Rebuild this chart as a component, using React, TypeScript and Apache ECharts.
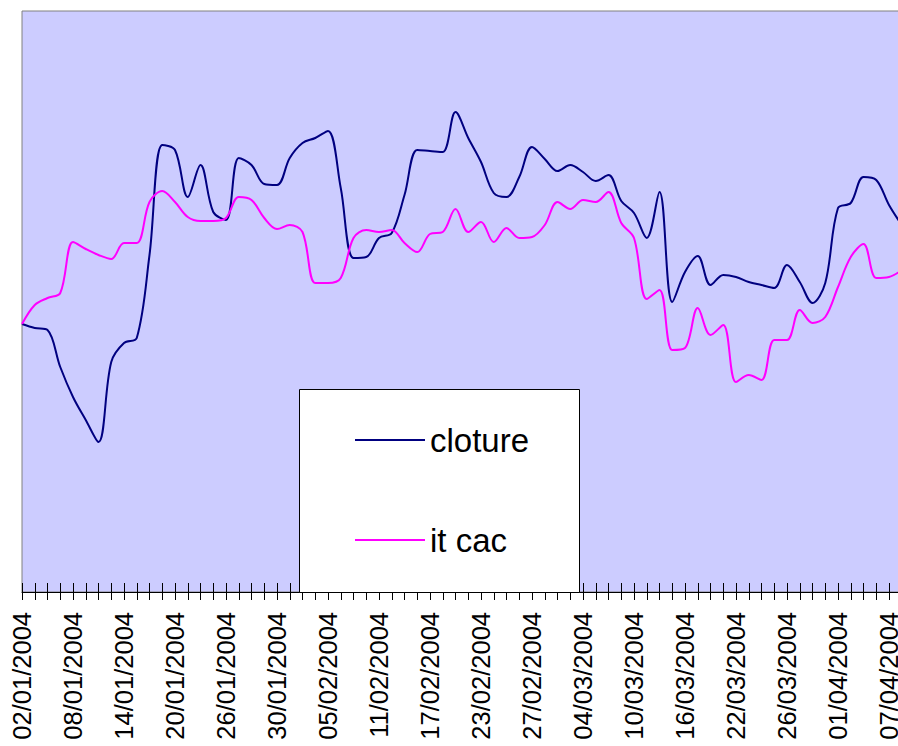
import React, { useEffect, useRef } from "react";
import * as echarts from "echarts";

const dates: string[] = [
  "02/01/2004","05/01/2004","06/01/2004","07/01/2004","08/01/2004","09/01/2004","12/01/2004","13/01/2004","14/01/2004","15/01/2004",
  "16/01/2004","19/01/2004","20/01/2004","21/01/2004","22/01/2004","23/01/2004","26/01/2004","27/01/2004","28/01/2004","29/01/2004",
  "30/01/2004","02/02/2004","03/02/2004","04/02/2004","05/02/2004","06/02/2004","09/02/2004","10/02/2004","11/02/2004","12/02/2004",
  "13/02/2004","16/02/2004","17/02/2004","18/02/2004","19/02/2004","20/02/2004","23/02/2004","24/02/2004","25/02/2004","26/02/2004",
  "27/02/2004","01/03/2004","02/03/2004","03/03/2004","04/03/2004","05/03/2004","08/03/2004","09/03/2004","10/03/2004","11/03/2004",
  "12/03/2004","15/03/2004","16/03/2004","17/03/2004","18/03/2004","19/03/2004","22/03/2004","23/03/2004","24/03/2004","25/03/2004",
  "26/03/2004","29/03/2004","30/03/2004","31/03/2004","01/04/2004","02/04/2004","05/04/2004","06/04/2004","07/04/2004","08/04/2004",
];

const cloture: number[] = [
  3599, 3595, 3593, 3556, 3526, 3503, 3481, 3561, 3580, 3585,
  3668, 3778, 3773, 3726, 3758, 3711, 3703, 3765, 3758, 3739,
  3738, 3765, 3780, 3785, 3792, 3735, 3665, 3666, 3685, 3690,
  3728, 3773, 3772, 3771, 3811, 3785, 3761, 3730, 3726, 3746,
  3776, 3764, 3752, 3758, 3751, 3742, 3748, 3722, 3710, 3685,
  3731, 3621, 3651, 3667, 3638, 3648, 3646, 3641, 3638, 3635,
  3658, 3641, 3620, 3640, 3715, 3720, 3746, 3743, 3718, 3698,
];

const itCac: number[] = [
  3599, 3618, 3625, 3630, 3681, 3674, 3668, 3664, 3680, 3680,
  3721, 3732, 3721, 3706, 3702, 3702, 3705, 3726, 3723, 3705,
  3694, 3698, 3691, 3640, 3640, 3645, 3685, 3693, 3691, 3693,
  3680, 3671, 3689, 3691, 3714, 3691, 3701, 3681, 3695, 3685,
  3686, 3698, 3721, 3714, 3723, 3721, 3731, 3700, 3685, 3624,
  3633, 3573, 3575, 3615, 3588, 3598, 3541, 3548, 3543, 3583,
  3583, 3613, 3600, 3606, 3636, 3666, 3679, 3645, 3646, 3653,
];

const seriesNames: string[] = ["cloture", "it cac"];
const yMin = 3331;
const yMax = 3912;

export default function App() {
  const ref = useRef<HTMLDivElement>(null);
  useEffect(() => {
    if (!ref.current) return;
    const chart = echarts.init(ref.current, undefined, { renderer: "svg" });
    const font = "'Liberation Sans', Arial, sans-serif";
    chart.setOption({
      animation: false,
      backgroundColor: "#ffffff",
      grid: {
        left: 22,
        top: 11,
        right: -3.75,
        bottom: 154,
        containLabel: false,
        outerBoundsMode: "none",
        show: true,
        backgroundColor: "#CCCCFF",
        borderColor: "#808080",
        borderWidth: 1,
      },
      xAxis: [
        {
          type: "category",
          data: dates,
          boundaryGap: false,
          position: "bottom",
          axisLine: { show: true, lineStyle: { color: "#000", width: 1 } },
          axisTick: { show: true, inside: false, length: 8, interval: 0, lineStyle: { color: "#000", width: 1 } },
          axisLabel: {
            show: true,
            interval: 3,
            rotate: 90,
            margin: 20,
            fontSize: 25.5,
            fontFamily: font,
            color: "#000",
          },
          splitLine: { show: false },
        },
        {
          type: "category",
          data: dates,
          boundaryGap: false,
          position: "bottom",
          axisLine: { show: false },
          axisTick: { show: true, inside: true, length: 9, interval: 0, lineStyle: { color: "#000", width: 1 } },
          axisLabel: { show: false },
          splitLine: { show: false },
        },
      ],
      yAxis: {
        type: "value",
        min: yMin,
        max: yMax,
        show: false,
        splitLine: { show: false },
      },
      legend: {
        orient: "vertical",
        left: 355,
        top: 422,
        padding: 0,
        itemGap: 64,
        itemWidth: 70,
        itemHeight: 2,
        icon: "rect",
        z: 10,
        data: seriesNames,
        textStyle: { fontSize: 33, fontFamily: font, color: "#000", lineHeight: 36 },
      },
      graphic: [
        {
          type: "rect",
          z: 5,
          shape: { x: 299.5, y: 389.5, width: 280, height: 203 },
          style: { fill: "#ffffff", stroke: "#000000", lineWidth: 1 },
        },
      ],
      series: [
        {
          name: seriesNames[0],
          type: "line",
          data: cloture,
          xAxisIndex: 0,
          smooth: 0.35,
          showSymbol: false,
          lineStyle: { color: "#000080", width: 2 },
          itemStyle: { color: "#000080" },
        },
        {
          name: seriesNames[1],
          type: "line",
          data: itCac,
          xAxisIndex: 0,
          smooth: 0.35,
          showSymbol: false,
          lineStyle: { color: "#FF00FF", width: 2 },
          itemStyle: { color: "#FF00FF" },
        },
      ],
    });
    return () => chart.dispose();
  }, []);
  return (
    <div
      ref={ref}
      style={{ position: "fixed", left: 0, top: 0, width: 898, height: 746 }}
    />
  );
}
